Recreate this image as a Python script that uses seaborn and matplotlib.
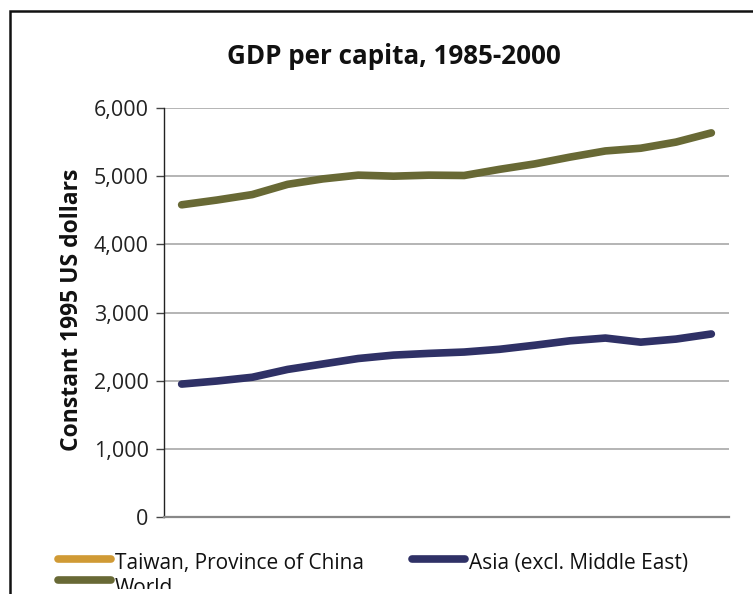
import matplotlib
matplotlib.use("Agg")
import matplotlib.pyplot as plt
import seaborn as sns
import pandas as pd
import numpy as np
from matplotlib.lines import Line2D
from matplotlib.patches import Rectangle
from matplotlib.ticker import FuncFormatter
from matplotlib.transforms import Bbox

years = list(range(1985, 2001))
world = [4580, 4650, 4730, 4880, 4960, 5015, 5000, 5015, 5010, 5100, 5180, 5280, 5370, 5410, 5500, 5635]
asia = [1950, 1995, 2050, 2165, 2245, 2325, 2375, 2400, 2420, 2460, 2520, 2585, 2625, 2565, 2610, 2685]
taiwan = [np.nan] * len(years)  # off-scale in the reference, not visible

series_names = ["Taiwan, Province of China", "Asia (excl. Middle East)", "World"]
colors = {"Taiwan, Province of China": "#D09A35",
          "Asia (excl. Middle East)": "#2F3166",
          "World": "#686935"}

df = pd.DataFrame({
    "idx": list(range(len(years))) * 3,
    "value": taiwan + asia + world,
    "series": [series_names[0]] * len(years) + [series_names[1]] * len(years) + [series_names[2]] * len(years),
})

sns.set_theme(style="white")
plt.rcParams["font.family"] = ["Open Sans", "DejaVu Sans"]

fig = plt.figure(figsize=(7.53, 5.94), dpi=100)
ax = fig.add_axes([164 / 753, 1 - 517 / 594, (729 - 164) / 753, (517 - 108) / 594])

plot_df = df.dropna()
sns.lineplot(data=plot_df, x="idx", y="value", hue="series", palette=colors,
             linewidth=5.5, ax=ax, legend=False, solid_capstyle="round",
             solid_joinstyle="round", sort=True)

ax.set_xlim(-0.5, len(years) - 0.5)
ax.set_ylim(0, 6000)
ax.set_yticks(range(0, 6001, 1000))
ax.yaxis.set_major_formatter(FuncFormatter(lambda v, p: f"{int(v):,}"))
ax.set_xticks([])
ax.set_xlabel("")
ax.set_ylabel("")
ax.grid(axis="y", color="#A8A8A8", linewidth=1.2)
ax.set_axisbelow(True)
for s in ["top", "right"]:
    ax.spines[s].set_visible(False)
ax.spines["left"].set_color("#222222")
ax.spines["left"].set_linewidth(1.0)
ax.spines["bottom"].set_color("#888888")
ax.spines["bottom"].set_linewidth(1.6)
ax.tick_params(axis="y", left=True, length=6, width=1, color="#444444",
               labelsize=15.5, labelcolor="#222222", pad=5)

fig.text(394 / 753, 1 - 57 / 594, "GDP per capita, 1985-2000", ha="center", va="center",
         fontsize=18.7, fontweight="bold", color="#111111")
fig.text(72 / 753, 1 - 310 / 594, "Constant 1995 US dollars", ha="center", va="center",
         rotation=90, fontsize=16.5, fontweight="bold", color="#111111")

clip = Bbox.from_extents(0, 594 - 589, 753, 594)

# legend
def legend_entry(x0, y, name, dy=4):
    fig.add_artist(Line2D([x0 / 753, (x0 + 53) / 753], [1 - y / 594, 1 - y / 594],
                          color=colors[name], linewidth=5.5, solid_capstyle="round",
                          transform=fig.transFigure))
    t = fig.text((x0 + 57) / 753, 1 - (y + dy) / 594, name, ha="left", va="center",
                 fontsize=15, color="#111111")
    t.set_clip_box(clip)
    t.set_clip_on(True)

legend_entry(58, 559, series_names[0])
legend_entry(412, 559, series_names[1])
legend_entry(58, 580, series_names[2], dy=8)

# frame border
fig.add_artist(Rectangle((10 / 753, -0.2), 1.2, 1 - 11 / 594 + 0.2, transform=fig.transFigure,
                         fill=False, edgecolor="#111111", linewidth=1.8))

fig.savefig("out.png", dpi=100)
